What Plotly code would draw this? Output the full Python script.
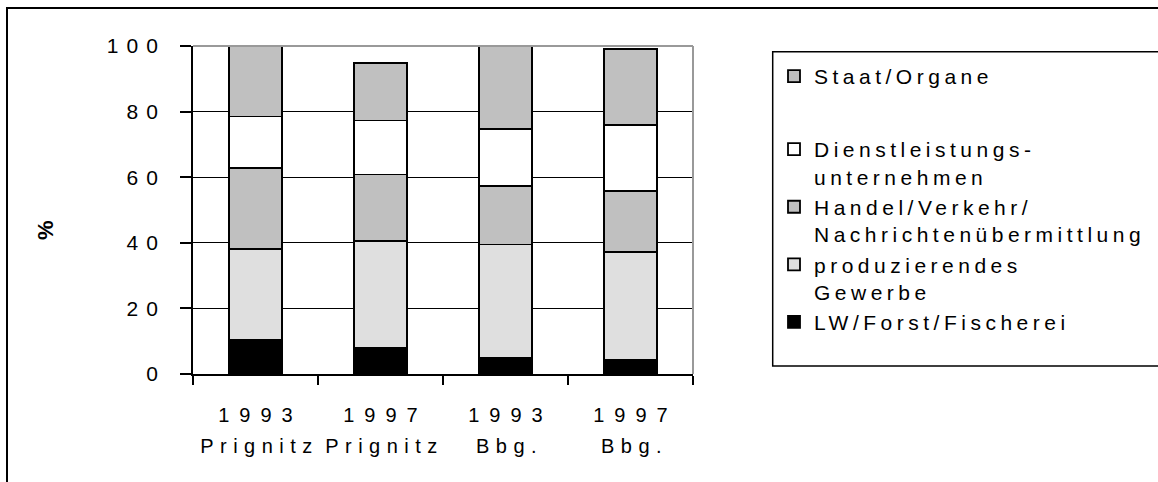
import plotly.graph_objects as go

categories = ["1993 Prignitz", "1997 Prignitz", "1993 Bbg.", "1997 Bbg."]
years = ["1993", "1997", "1993", "1997"]
regions = ["Prignitz", "Prignitz", "Bbg.", "Bbg."]

lw_forst = [10.4, 8.0, 5.0, 4.3]
produzierend = [27.7, 32.6, 34.5, 32.8]
handel = [24.6, 20.2, 17.7, 18.7]
dienst = [15.8, 16.5, 17.6, 20.2]
staat = [21.5, 17.6, 25.2, 23.2]

series = [
    ("LW/Forst/Fischerei", lw_forst, "#000000", 5, "legend"),
    ("produzierendes<br>Gewerbe", produzierend, "#dfdfdf", 4, "legend"),
    ("Handel/Verkehr/<br>Nachrichtenübermittlung", handel, "#c0c0c0", 3, "legend"),
    ("Dienstleistungs-<br>unternehmen", dienst, "#ffffff", 2, "legend"),
    ("Staat/Organe", staat, "#c0c0c0", 1, "legend2"),
]

FONT = "Arial, Liberation Sans, sans-serif"

fig = go.Figure()
for i, (name, vals, col, rank, leg) in enumerate(series):
    fig.add_trace(go.Bar(
        x=categories, y=vals, name=name,
        marker=dict(color=col, line=dict(color="#000000", width=1.8)),
        legendgroup=str(i), legendrank=rank, legend=leg,
    ))

# invisible trace on second x axis for the region tick row
fig.add_trace(go.Bar(x=categories, y=[0, 0, 0, 0], xaxis="x2", showlegend=False,
                     marker=dict(color="rgba(0,0,0,0)"), hoverinfo="skip"))

W, H = 1158, 482
L, R, T, B = 193, 465, 46, 108
pw, ph = W - L - R, H - T - B

def px(x):
    return (x - L) / pw

def py(y):
    return (H - B - y) / ph

legend_style = dict(
    xanchor="left", yanchor="top",
    traceorder="grouped", tracegroupgap=0, valign="top",
    font=dict(family=FONT, size=21, color="black"),
    bgcolor="rgba(0,0,0,0)", borderwidth=0,
)

fig.update_layout(
    width=W, height=H,
    margin=dict(l=L, r=R, t=T, b=B),
    barmode="stack", bargap=0.58,
    paper_bgcolor="white", plot_bgcolor="white",
    font=dict(family=FONT, size=20, color="black"),
    showlegend=True,
    legend=dict(x=px(774), y=py(129), **legend_style),
    legend2=dict(x=px(774), y=py(56), **legend_style),
    xaxis=dict(
        type="category", tickmode="array", tickvals=categories, ticktext=years,
        tickson="boundaries", ticks="outside", ticklen=9, tickwidth=1.5, tickcolor="black",
        showline=True, linecolor="black", linewidth=1.8, showgrid=False,
        ticklabelstandoff=22, tickfont=dict(size=20),
    ),
    xaxis2=dict(
        type="category", overlaying="x", anchor="y", side="bottom",
        tickmode="array", tickvals=categories, ticktext=regions,
        ticks="", showline=False, showgrid=False,
        ticklabelstandoff=58, tickfont=dict(size=20),
    ),
    yaxis=dict(
        range=[0, 100], tickmode="linear", tick0=0, dtick=20,
        ticks="outside", ticklen=11, tickwidth=1.5, tickcolor="black",
        showline=True, linecolor="black", linewidth=1.8,
        showgrid=True, gridcolor="black", gridwidth=1.2,
        zeroline=False, ticklabelstandoff=10, tickfont=dict(size=21),
    ),
    shapes=[
        dict(type="line", xref="paper", yref="paper", x0=0, x1=1, y0=1, y1=1,
             line=dict(color="#999999", width=2)),
        dict(type="line", xref="paper", yref="paper", x0=1, x1=1, y0=0, y1=1,
             line=dict(color="#999999", width=2)),
        dict(type="rect", xref="paper", yref="paper",
             x0=px(772.7), x1=px(1175), y0=py(366), y1=py(51.7),
             line=dict(color="black", width=1.5)),
        dict(type="rect", xref="paper", yref="paper",
             x0=px(7), x1=px(1180), y0=py(500), y1=py(8),
             line=dict(color="black", width=2)),
    ],
    annotations=[
        dict(text="<b>%</b>", xref="paper", yref="paper", x=px(45), y=py(230),
             xanchor="center", yanchor="middle",
             textangle=-90, showarrow=False, font=dict(family=FONT, size=22, color="black")),
    ],
)

css = ("body{margin:0;}"
       ".xtick text{letter-spacing:10px;translate:5px 0;}"
       ".x2tick text{letter-spacing:6.5px;translate:4px 0;}"
       ".ytick text{letter-spacing:8px;}"
       "text.legendtext, .legend2 text, g.legend2 .legendtext{letter-spacing:4.5px !important;}"
       ".legend .scrollbox, .legend2 .scrollbox{clip-path:none !important;}")
post = "var s=document.createElement('style');s.textContent='" + css + "';document.head.appendChild(s);"

fig.write_html("out.html", post_script=post, config={"displayModeBar": False})
